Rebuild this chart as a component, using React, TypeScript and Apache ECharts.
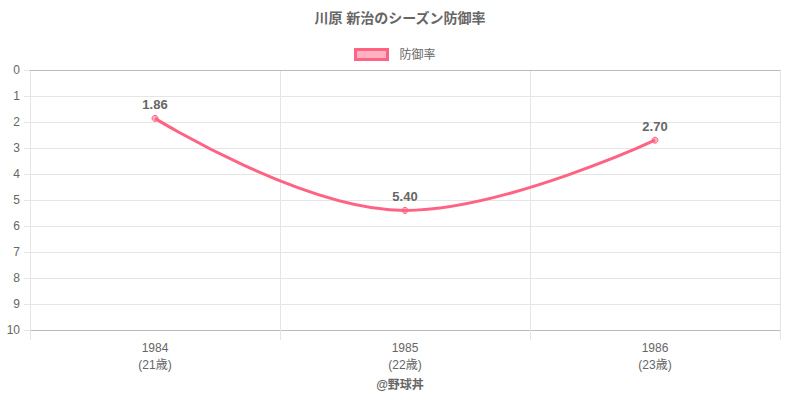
import React, { useEffect, useRef } from "react";
import * as echarts from "echarts";

const years = ["1984", "1985", "1986"];
const ages = ["21歳", "22歳", "23歳"];
const era = [1.86, 5.4, 2.7];
const yTicks = { min: 0, max: 10, interval: 1 };

const FONT = "'Helvetica Neue', Helvetica, Arial, 'Noto Sans CJK JP', sans-serif";

export default function App() {
  const ref = useRef<HTMLDivElement>(null);
  useEffect(() => {
    const chart = echarts.init(ref.current!, null, { renderer: "svg" });
    chart.setOption({
      animation: false,
      textStyle: { fontFamily: FONT },
      title: {
        text: "川原 新治のシーズン防御率",
        left: "center",
        top: 6,
        textStyle: { fontSize: 14, fontWeight: "bold", color: "#666", fontFamily: FONT },
      },
      legend: {
        top: 43,
        left: 349,
        itemWidth: 32,
        itemHeight: 10,
        itemGap: 10,
        icon: "rect",
        textStyle: { fontSize: 12, color: "#666", fontFamily: FONT, padding: [0, 0, 0, 7] },
        itemStyle: { color: "rgba(255,99,132,0.5)", borderColor: "#ff6384", borderWidth: 3 },
        data: ["防御率"],
      },
      grid: { left: 30, right: 20, top: 70, bottom: 70, containLabel: false },
      xAxis: [
        {
          type: "category",
          data: years,
          boundaryGap: true,
          axisLine: { onZero: false, lineStyle: { color: "#bbb" } },
          axisTick: { show: true, length: 10, lineStyle: { color: "#e5e5e5" } },
          splitLine: { show: true, lineStyle: { color: "#e5e5e5" } },
          axisLabel: {
            color: "#666",
            fontSize: 12,
            margin: 9,
            lineHeight: 17,
            formatter: (v: string) => {
              const i = years.indexOf(v);
              return `${v}\n(${ages[i]})`;
            },
          },
        },
        {
          type: "category",
          data: years,
          position: "top",
          axisLine: { show: true, onZero: false, lineStyle: { color: "#bbb" } },
          axisTick: { show: false },
          axisLabel: { show: false },
          splitLine: { show: false },
        },
      ],
      yAxis: {
        type: "value",
        inverse: true,
        min: yTicks.min,
        max: yTicks.max,
        interval: yTicks.interval,
        axisLine: { show: true, lineStyle: { color: "#e5e5e5" } },
        axisTick: { show: true, length: 6, lineStyle: { color: "#e5e5e5" } },
        splitLine: { show: true, lineStyle: { color: "#e5e5e5" } },
        axisLabel: { color: "#666", fontSize: 12, margin: 10 },
      },
      series: [
        {
          name: "防御率",
          type: "line",
          data: era,
          smooth: 0.4,
          symbol: "circle",
          symbolSize: 6,
          lineStyle: { color: "#ff6384", width: 3 },
          itemStyle: { color: "rgba(255,99,132,0.5)", borderColor: "#ff6384", borderWidth: 1 },
          label: {
            show: true,
            position: "top",
            distance: 4,
            formatter: (p: any) => p.value.toFixed(2),
            color: "#666",
            fontSize: 13,
            fontWeight: "bold",
            fontFamily: FONT,
          },
        },
      ],
      graphic: [
        {
          type: "text",
          left: "center",
          top: 379,
          style: { text: "@野球丼", fontSize: 12, fontWeight: "bold", fill: "#666", fontFamily: FONT },
        },
      ],
    });
    return () => chart.dispose();
  }, []);
  return (
    <div
      ref={ref}
      style={{ position: "absolute", left: 0, top: 0, width: 800, height: 400 }}
    />
  );
}
